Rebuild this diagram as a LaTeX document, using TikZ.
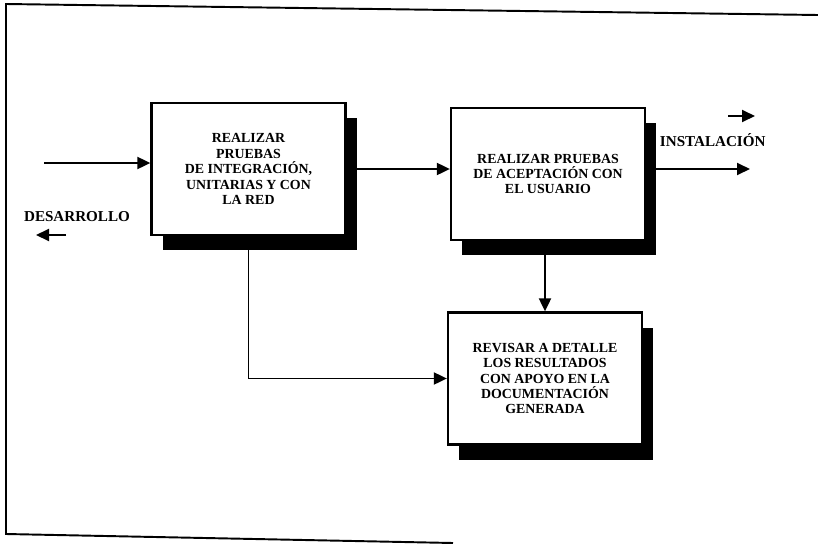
\documentclass[tikz,border=0pt]{standalone}
\usepackage{fontspec}
\setmainfont{Liberation Serif}
\usepackage{tikz}
\usetikzlibrary{positioning, shadows, arrows.meta}

\begin{document}
\begin{tikzpicture}[
    line width=1.1pt,
    every node/.style={font=\bfseries\fontsize{7.9}{8.8}\selectfont},
    tarea/.style={draw, fill=white, line width=1.3pt, align=center,
        minimum width=3.88cm, minimum height=2.64cm, inner sep=2pt,
        drop shadow={shadow xshift=0.22cm, shadow yshift=-0.3cm,
            fill=black, opacity=1}},
    etiqueta/.style={font=\bfseries\fontsize{8.6}{10}\selectfont, inner sep=0pt},
    flujo/.style={-{Triangle[length=0.26cm, width=0.24cm]}}
  ]
  \useasboundingbox (0,0) rectangle (16.36,-10.88);

  % marco
  \draw (16.36,-0.3) -- (0.12,-0.08) -- (0.12,-10.68) -- (9.06,-10.86);

  % cajas
  \node[tarea] (pruebas) at (4.97,-3.38) {REALIZAR\\PRUEBAS\\DE INTEGRACIÓN,\\UNITARIAS Y CON\\LA RED};
  \node[tarea] (aceptacion) at (10.96,-3.48) {REALIZAR PRUEBAS\\DE ACEPTACIÓN CON\\EL USUARIO};
  \node[tarea] (revisar) at (10.9,-7.57) {REVISAR A DETALLE\\LOS RESULTADOS\\CON APOYO EN LA\\DOCUMENTACIÓN\\GENERADA};

  % etiquetas
  \node[etiqueta] (desarrollo) at (1.54,-4.34) {DESARROLLO};
  \node[etiqueta, anchor=west] (instalacion) at (13.18,-2.8) {INSTALACIÓN};

  \coordinate (entrada) at (0.88,-3.26);
  \coordinate (salida) at (15.0,-3.38);
  \coordinate (desA) at (1.32,-4.7);
  \coordinate (desB) at (0.72,-4.7);
  \coordinate (insA) at (14.56,-2.32);
  \coordinate (insB) at (15.1,-2.32);

  % flechas
  \draw[flujo] (entrada) -- (entrada -| pruebas.west);
  \draw[flujo] (pruebas.east) -- (pruebas.east -| aceptacion.west);
  \draw[flujo] (aceptacion.east |- salida) -- (salida);
  \draw[flujo] (revisar.north |- aceptacion.south) -- (revisar.north);
  \draw[flujo] (pruebas.south) |- (revisar.west);
  \draw[flujo] (desA) -- (desB);
  \draw[flujo] (insA) -- (insB);
\end{tikzpicture}
\end{document}
